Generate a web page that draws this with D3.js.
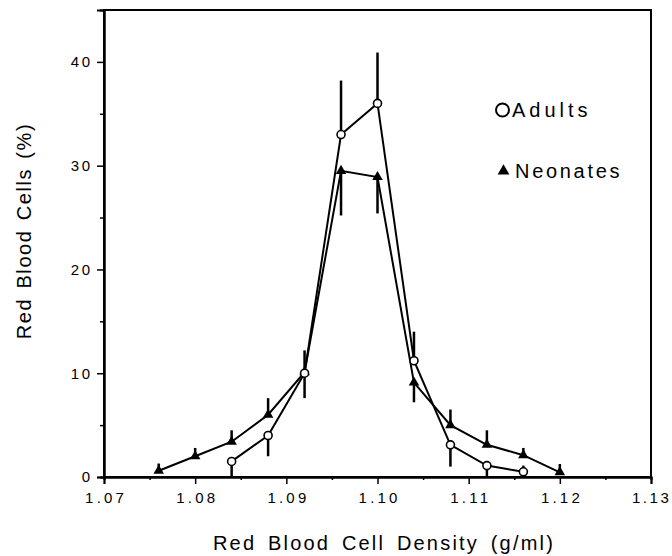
<!DOCTYPE html>
<html>
<head>
<meta charset="utf-8">
<script src="https://cdn.jsdelivr.net/npm/d3@7"></script>
<style>
  body { margin: 0; background: #fff; }
  svg { display: block; font-family: "Liberation Sans", Arial, sans-serif; }
</style>
</head>
<body>
<svg width="672" height="556"></svg>
<script>
// values
const adultDensity = [1.084, 1.088, 1.092, 1.096, 1.100, 1.104, 1.108, 1.112, 1.116];
const adultPct     = [1.5, 4.0, 10.0, 33.0, 36.0, 11.2, 3.1, 1.1, 0.5];
const adultBarEnd  = [0, 2.0, 7.6, 38.2, 40.9, 14.0, 1.0, 0, 1.1];

const neoDensity = [1.076, 1.080, 1.084, 1.088, 1.092, 1.096, 1.100, 1.104, 1.108, 1.112, 1.116, 1.120];
const neoPct     = [0.6, 2.0, 3.4, 6.0, 10.1, 29.5, 28.9, 9.1, 5.0, 3.1, 2.1, 0.45];
const neoBarEnd  = [1.3, 2.8, 4.5, 7.6, 12.2, 25.2, 25.4, 7.2, 6.5, 4.5, 2.8, 1.25];

const xTicks = [1.07, 1.08, 1.09, 1.10, 1.11, 1.12, 1.13];
const xMinor = [1.075, 1.085, 1.095, 1.105, 1.115, 1.125];
const yTicks = [0, 10, 20, 30, 40];
const yMinor = [5, 15, 25, 35];

const svg = d3.select("svg");

const x = d3.scaleLinear().domain([1.07, 1.13]).range([104, 651]);
const y = d3.scaleLinear().domain([0, 45]).range([477, 10]);

// frame
svg.append("rect")
    .attr("x", x(1.07)).attr("y", y(45))
    .attr("width", x(1.13) - x(1.07)).attr("height", y(0) - y(45))
    .attr("fill", "none").attr("stroke", "#000").attr("stroke-width", 2);

// axes
svg.append("g")
    .attr("class", "xaxis")
    .attr("transform", `translate(0,${y(0)})`)
    .call(d3.axisBottom(x).tickValues(xTicks).tickSize(7).tickPadding(8)
        .tickFormat(d3.format(".2f")));
svg.append("g")
    .attr("transform", `translate(0,${y(0)})`)
    .call(d3.axisBottom(x).tickValues(xMinor).tickSize(3).tickFormat(""));

svg.append("g")
    .attr("class", "yaxis")
    .attr("transform", `translate(${x(1.07)},0)`)
    .call(d3.axisLeft(y).tickValues(yTicks).tickSize(7).tickPadding(7));
svg.append("g")
    .attr("transform", `translate(${x(1.07)},0)`)
    .call(d3.axisLeft(y).tickValues(yMinor).tickSize(4).tickFormat(""));

svg.selectAll(".domain").attr("stroke-width", 2);
svg.selectAll(".tick line").attr("stroke-width", 1.5);
svg.selectAll(".tick text")
    .attr("font-size", 15)
    .attr("font-family", "\"Liberation Sans\", Arial, sans-serif")
    .attr("letter-spacing", 3.2)
    .attr("fill", "#000");
// letter-spacing leaves trailing space; nudge to re-centre
svg.selectAll(".xaxis .tick text").attr("dx", 1.6);
svg.selectAll(".yaxis .tick text").attr("letter-spacing", 2.5).attr("dx", 2.5);
// last label sits at the page edge: keep it inside
svg.selectAll(".xaxis .tick text").filter(d => d === 1.13)
    .attr("text-anchor", "end").attr("letter-spacing", 2.6).attr("dx", 20);

// axis titles
svg.append("text")
    .attr("x", 384).attr("y", 550)
    .attr("text-anchor", "middle")
    .attr("font-size", 20).attr("letter-spacing", 2.2).attr("word-spacing", 4)
    .text("Red Blood Cell Density (g/ml)");

svg.append("text")
    .attr("transform", "translate(31,231) rotate(-90)")
    .attr("text-anchor", "middle")
    .attr("font-size", 20).attr("letter-spacing", 1.6).attr("word-spacing", 2)
    .text("Red Blood Cells (%)");

const adults = adultDensity.map((d, i) => ({ x: d, y: adultPct[i], e: adultBarEnd[i] }));
const neonates = neoDensity.map((d, i) => ({ x: d, y: neoPct[i], e: neoBarEnd[i] }));

const line = d3.line().x(d => x(d.x)).y(d => y(d.y));

// error bars
svg.append("g").selectAll("line")
    .data(adults.concat(neonates))
    .join("line")
    .attr("x1", d => x(d.x)).attr("x2", d => x(d.x))
    .attr("y1", d => y(d.y)).attr("y2", d => y(d.e))
    .attr("stroke", "#000").attr("stroke-width", 2.5);

// lines
svg.append("path").datum(neonates)
    .attr("d", line).attr("fill", "none")
    .attr("stroke", "#000").attr("stroke-width", 2);
svg.append("path").datum(adults)
    .attr("d", line).attr("fill", "none")
    .attr("stroke", "#000").attr("stroke-width", 2);

// markers
const tri = d3.symbol().type(d3.symbolTriangle).size(48);
svg.append("g").selectAll("path")
    .data(neonates)
    .join("path")
    .attr("transform", d => `translate(${x(d.x)},${y(d.y)})`)
    .attr("d", tri)
    .attr("fill", "#000");

svg.append("g").selectAll("circle")
    .data(adults)
    .join("circle")
    .attr("cx", d => x(d.x)).attr("cy", d => y(d.y))
    .attr("r", 4)
    .attr("fill", "#fff").attr("stroke", "#000").attr("stroke-width", 1.6);

// legend
const legend = svg.append("g");
legend.append("circle")
    .attr("cx", 502.5).attr("cy", 110).attr("r", 6.5)
    .attr("fill", "#fff").attr("stroke", "#000").attr("stroke-width", 2);
legend.append("text")
    .attr("x", 512).attr("y", 117)
    .attr("font-size", 20).attr("letter-spacing", 4)
    .text("Adults");
legend.append("path")
    .attr("transform", "translate(503.5,171)")
    .attr("d", d3.symbol().type(d3.symbolTriangle).size(60))
    .attr("fill", "#000");
legend.append("text")
    .attr("x", 515).attr("y", 178)
    .attr("font-size", 20).attr("letter-spacing", 2.7)
    .text("Neonates");
</script>
</body>
</html>
